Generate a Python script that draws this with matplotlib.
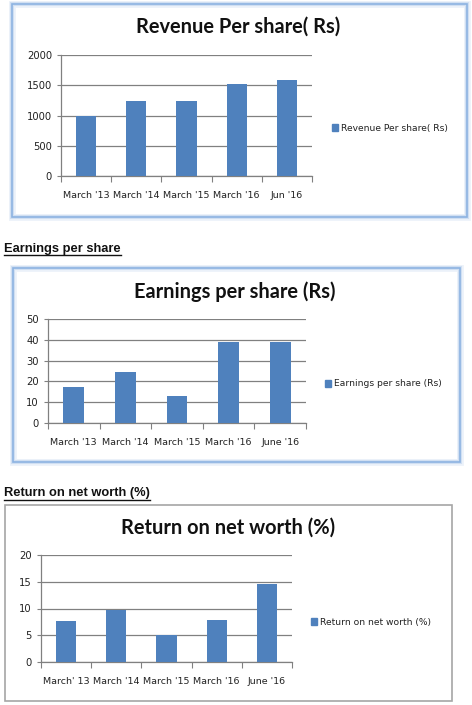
import matplotlib
matplotlib.use("Agg")
import matplotlib.pyplot as plt
from matplotlib.patches import Rectangle
from matplotlib.lines import Line2D

# data
cats_rev = ["March '13", "March '14", "March '15", "March '16", "Jun '16"]
revenue = [1000, 1235, 1235, 1520, 1580]

cats_eps = ["March '13", "March '14", "March '15", "March '16", "June '16"]
eps = [17.5, 24.4, 13.2, 39.0, 39.0]

cats_ronw = ["March' 13", "March '14", "March '15", "March '16", "June '16"]
ronw = [7.7, 9.7, 5.1, 7.8, 14.5]

W, H = 472, 705
BAR = "#4F81BD"
GRID = "#808080"

fig = plt.figure(figsize=(W / 100, H / 100), dpi=100)
fig.patch.set_facecolor("white")


def rect(x0, y0, x1, y1):
    # pixel box -> figure fraction
    return [x0 / W, 1 - y1 / H, (x1 - x0) / W, (y1 - y0) / H]


def box(x0, y0, x1, y1, color, glow=True):
    if glow:
        for lw, a in [(5, 0.15), (3, 0.3)]:
            fig.patches.append(Rectangle((x0 / W, 1 - y1 / H), (x1 - x0) / W, (y1 - y0) / H,
                                         transform=fig.transFigure, fill=False,
                                         edgecolor=color, lw=lw, alpha=a))
    fig.patches.append(Rectangle((x0 / W, 1 - y1 / H), (x1 - x0) / W, (y1 - y0) / H,
                                 transform=fig.transFigure, fill=False,
                                 edgecolor=color, lw=1.2))


def chart(pos, cats, vals, ymax, ystep, title, title_xy, leg_label, leg_xy):
    ax = fig.add_axes(rect(*pos))
    x = range(len(cats))
    ax.bar(x, vals, width=0.4, color=BAR, zorder=3)
    ax.set_xlim(-0.5, len(cats) - 0.5)
    ax.set_ylim(0, ymax)
    ax.set_yticks(range(0, ymax + 1, ystep))
    ax.yaxis.grid(True, color=GRID, lw=0.9, zorder=0)
    ax.set_xticks([i - 0.5 for i in range(len(cats) + 1)])
    ax.set_xticklabels([])
    ax.set_xticks(list(x), minor=True)
    ax.set_xticklabels(cats, minor=True, fontsize=6.8, color="#222222")
    ax.tick_params(axis="x", which="minor", length=0, pad=11)
    ax.tick_params(axis="x", which="major", length=4, color=GRID, direction="out")
    ax.tick_params(axis="y", length=3, color=GRID, labelsize=7.2, labelcolor="#222222")
    for s in ["top", "right"]:
        ax.spines[s].set_visible(False)
    for s in ["left", "bottom"]:
        ax.spines[s].set_color(GRID)
        ax.spines[s].set_linewidth(0.9)
    fig.text(title_xy[0] / W, 1 - title_xy[1] / H, title, ha="center", va="center",
             fontsize=14.4, fontweight="bold", family="Lato", color="#111111")
    leg = ax.legend([Rectangle((0, 0), 1, 1, color=BAR)], [leg_label], frameon=False,
                    loc="center left", bbox_to_anchor=(leg_xy[0] / W, 1 - leg_xy[1] / H),
                    bbox_transform=fig.transFigure, fontsize=6.6,
                    handlelength=0.7, handleheight=0.7, handletextpad=0.3,
                    borderpad=0, borderaxespad=0)
    for t in leg.get_texts():
        t.set_color("#222222")
    return ax


box(12, 4, 467, 217, "#8DB3E2")
chart((61, 55, 312, 176), cats_rev, revenue, 2000, 500,
      "Revenue Per share( Rs)", (238, 27), "Revenue Per share( Rs)", (332, 128))

box(13, 268, 460, 462, "#8DB3E2")
chart((48, 319, 306, 423), cats_eps, eps, 50, 10,
      "Earnings per share (Rs)", (235, 292), "Earnings per share (Rs)", (325, 384))

box(5, 505, 452, 701, "#a6a6a6", glow=False)
chart((41, 555, 292, 662), cats_ronw, ronw, 20, 5,
      "Return on net worth (%)", (228, 528), "Return on net worth (%)", (311, 622))

# page headings with underline
heads = []
for txt, yc in [("Earnings per share", 249), ("Return on net worth (%)", 493)]:
    heads.append(fig.text(4 / W, 1 - yc / H, txt, ha="left", va="center",
                          fontsize=9.3, fontweight="bold", family="Liberation Sans",
                          color="#111111"))

fig.canvas.draw()
r = fig.canvas.get_renderer()
for t in heads:
    bb = t.get_window_extent(r)
    yline = (bb.y0 - 0.5) / H
    fig.lines.append(Line2D([bb.x0 / W, bb.x1 / W], [yline, yline],
                            transform=fig.transFigure, color="#111111", lw=1.0))

fig.savefig("out.png", dpi=100, facecolor="white")
